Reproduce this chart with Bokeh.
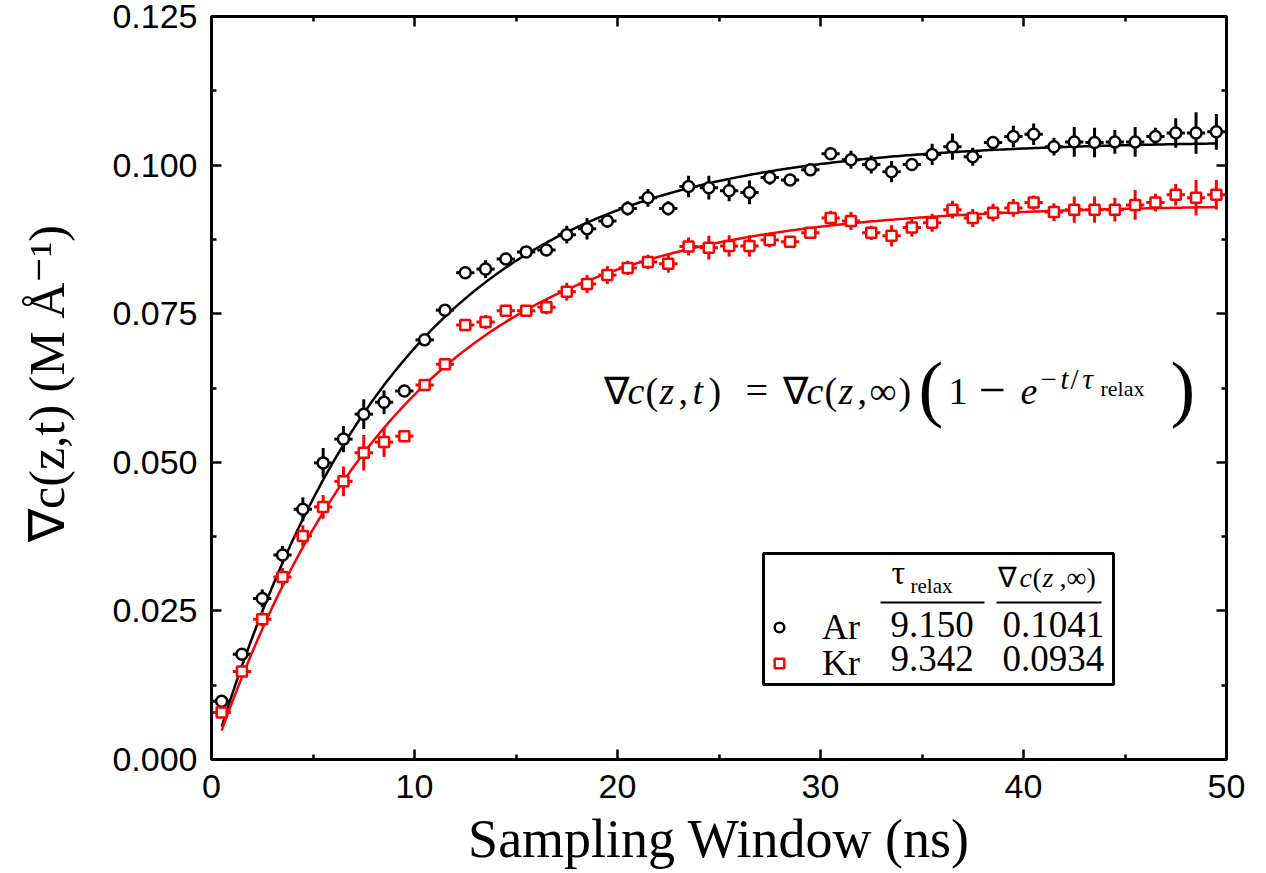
import numpy as np
from bokeh.plotting import figure
from bokeh.models import (Range1d, LinearAxis, Label, BoxAnnotation, Legend,
                          LegendItem, FixedTicker, NumeralTickFormatter)
from bokeh.embed import file_html
from bokeh.resources import INLINE

# ---------------- data ----------------
t = [0.5, 1.5, 2.5, 3.5, 4.5, 5.5, 6.5, 7.5, 8.5, 9.5,
     10.5, 11.5, 12.5, 13.5, 14.5, 15.5, 16.5, 17.5, 18.5, 19.5,
     20.5, 21.5, 22.5, 23.5, 24.5, 25.5, 26.5, 27.5, 28.5, 29.5,
     30.5, 31.5, 32.5, 33.5, 34.5, 35.5, 36.5, 37.5, 38.5, 39.5,
     40.5, 41.5, 42.5, 43.5, 44.5, 45.5, 46.5, 47.5, 48.5, 49.5]

ar = [0.0098, 0.0177, 0.0271, 0.0344, 0.0421, 0.0499, 0.0539, 0.0581, 0.0601, 0.0620,
      0.0706, 0.0756, 0.0819, 0.0825, 0.0842, 0.0854, 0.0857, 0.0883, 0.0893, 0.0906,
      0.0927, 0.0945, 0.0927, 0.0964, 0.0962, 0.0957, 0.0954, 0.0979, 0.0975, 0.0992,
      0.1019, 0.1009, 0.1001, 0.0989, 0.1001, 0.1018, 0.1031, 0.1014, 0.1038, 0.1048,
      0.1052, 0.1031, 0.1039, 0.1038, 0.1039, 0.1039, 0.1048, 0.1054, 0.1054, 0.1056]
ar_err = [0.0005, 0.0008, 0.0015, 0.0015, 0.0020, 0.0025, 0.0022, 0.0025, 0.0020, 0.0010,
          0.0010, 0.0010, 0.0010, 0.0015, 0.0010, 0.0008, 0.0010, 0.0015, 0.0018, 0.0012,
          0.0012, 0.0015, 0.0012, 0.0018, 0.0020, 0.0018, 0.0020, 0.0012, 0.0008, 0.0008,
          0.0008, 0.0015, 0.0015, 0.0018, 0.0008, 0.0018, 0.0022, 0.0015, 0.0008, 0.0018,
          0.0018, 0.0015, 0.0025, 0.0025, 0.0020, 0.0025, 0.0015, 0.0025, 0.0035, 0.0030]

kr = [0.0079, 0.0148, 0.0236, 0.0307, 0.0376, 0.0425, 0.0468, 0.0516, 0.0534, 0.0544,
      0.0630, 0.0665, 0.0731, 0.0736, 0.0755, 0.0755, 0.0761, 0.0787, 0.0800, 0.0815,
      0.0827, 0.0837, 0.0834, 0.0863, 0.0861, 0.0864, 0.0864, 0.0874, 0.0871, 0.0886,
      0.0911, 0.0906, 0.0886, 0.0881, 0.0895, 0.0903, 0.0925, 0.0911, 0.0920, 0.0928,
      0.0937, 0.0921, 0.0925, 0.0925, 0.0925, 0.0933, 0.0937, 0.0950, 0.0945, 0.0950]
kr_err = [0.0008, 0.0010, 0.0012, 0.0015, 0.0018, 0.0020, 0.0025, 0.0030, 0.0025, 0.0005,
          0.0010, 0.0010, 0.0010, 0.0012, 0.0010, 0.0008, 0.0012, 0.0015, 0.0015, 0.0015,
          0.0012, 0.0012, 0.0015, 0.0015, 0.0020, 0.0018, 0.0018, 0.0012, 0.0008, 0.0008,
          0.0012, 0.0015, 0.0012, 0.0018, 0.0015, 0.0015, 0.0015, 0.0015, 0.0015, 0.0015,
          0.0012, 0.0015, 0.0022, 0.0022, 0.0020, 0.0025, 0.0015, 0.0018, 0.0030, 0.0025]

t_halfwidth = 0.45   # horizontal error (half sampling bin)

species = ["Ar", "Kr"]
tau_relax = [9.150, 9.342]
grad_inf = [0.1041, 0.0934]
tau_text = ["9.150", "9.342"]
grad_text = ["0.1041", "0.0934"]

x_ticks = [0, 10, 20, 30, 40, 50]
y_ticks = [0.0, 0.025, 0.05, 0.075, 0.1, 0.125]

# ---------------- style ----------------
SANS = "Liberation Sans"
SERIF = "Liberation Serif"
BLACK = "#000000"
RED = "#ff0000"

FL, FB = 211, 759          # picture px of frame left / bottom (for screen-unit labels)

p = figure(width=1266, height=873,
           x_range=Range1d(0, 50), y_range=Range1d(0, 0.125),
           output_backend="svg", toolbar_location=None,
           min_border_left=211, min_border_right=40,
           min_border_top=16, min_border_bottom=114)
p.xgrid.visible = False
p.ygrid.visible = False
p.outline_line_color = BLACK
p.outline_line_width = 3
p.background_fill_color = "white"
p.border_fill_color = "white"

x_minor = [(a + b) / 2 for a, b in zip(x_ticks[:-1], x_ticks[1:])]
y_minor = [(a + b) / 2 for a, b in zip(y_ticks[:-1], y_ticks[1:])]


def style_axis(ax, ticks, minor, show_labels):
    ax.ticker = FixedTicker(ticks=ticks, minor_ticks=minor)
    ax.axis_line_width = 3
    ax.axis_line_color = BLACK
    ax.major_tick_in = 10
    ax.major_tick_out = 0
    ax.minor_tick_in = 5
    ax.minor_tick_out = 0
    ax.major_tick_line_width = 2.5
    ax.minor_tick_line_width = 2.5
    ax.major_tick_line_color = BLACK
    ax.minor_tick_line_color = BLACK
    if show_labels:
        ax.major_label_text_font = SANS
        ax.major_label_text_font_size = "34px"
        ax.major_label_text_color = BLACK
    else:
        ax.major_label_text_font_size = "0px"
        ax.major_label_text_alpha = 0
        ax.major_label_standoff = 0


style_axis(p.xaxis[0], x_ticks, x_minor, True)
style_axis(p.yaxis[0], y_ticks, y_minor, True)
p.xaxis[0].major_label_standoff = 15
p.yaxis[0].major_label_standoff = 14
p.xaxis[0].formatter = NumeralTickFormatter(format="0")
p.yaxis[0].formatter = NumeralTickFormatter(format="0.000")

p.xaxis[0].axis_label = "Sampling Window (ns)"
p.xaxis[0].axis_label_text_font = SERIF
p.xaxis[0].axis_label_text_font_size = "54px"
p.xaxis[0].axis_label_text_font_style = "normal"
p.xaxis[0].axis_label_text_color = BLACK
p.xaxis[0].axis_label_standoff = 8

p.yaxis[0].axis_label = "∇c(z,t) (M Å⁻¹)"
p.yaxis[0].axis_label_text_font = SERIF
p.yaxis[0].axis_label_text_font_size = "50px"
p.yaxis[0].axis_label_text_font_style = "normal"
p.yaxis[0].axis_label_text_color = BLACK
p.yaxis[0].axis_label_standoff = 34

top_ax = LinearAxis()
style_axis(top_ax, x_ticks, x_minor, False)
p.add_layout(top_ax, "above")
right_ax = LinearAxis()
style_axis(right_ax, y_ticks, y_minor, False)
p.add_layout(right_ax, "right")

# ---------------- data marks ----------------
ta = np.array(t)
series = [(np.array(ar), np.array(ar_err), BLACK, "circle", 11),
          (np.array(kr), np.array(kr_err), RED, "square", 10)]
marker_renderers = []
for (vals, errs, col, mk, sz), tau, ginf in zip(series, tau_relax, grad_inf):
    p.segment(x0=ta, x1=ta, y0=vals - errs, y1=vals + errs,
              line_color=col, line_width=3)
    p.segment(x0=ta - t_halfwidth, x1=ta + t_halfwidth, y0=vals, y1=vals,
              line_color=col, line_width=3)
    tt = np.linspace(t[0], t[-1], 400)
    p.line(tt, ginf * (1 - np.exp(-tt / tau)), line_color=col, line_width=2.5)

for (vals, errs, col, mk, sz) in series:
    r = p.scatter(ta, vals, marker=mk, size=sz, line_color=col, line_width=2.5,
                  fill_color="white")
    marker_renderers.append(r)

# ---------------- text helpers ----------------
def put(txt, px, py, size, style="normal", align="left", font=SERIF, color=BLACK):
    # py is the wanted alphabetic baseline in picture pixels
    p.add_layout(Label(x=px - FL, y=FB - (py - 0.38 * size), x_units="screen", y_units="screen",
                       text=txt, text_font=font, text_font_size=f"{size}px",
                       text_font_style=style, text_align=align,
                       text_baseline="alphabetic", text_color=color))

# equation
EB = 405
SB = 390
eq = [("∇", 603, EB, 38, "normal"), ("c", 627, EB, 38, "italic"),
      ("(", 645, EB, 38, "normal"), ("z", 659, EB, 38, "italic"),
      (",", 678, EB, 38, "normal"), ("t", 692, EB, 38, "italic"),
      (")", 708, EB, 38, "normal"), ("=", 745, EB, 40, "normal"),
      ("∇", 782, EB, 38, "normal"), ("c", 806, EB, 38, "italic"),
      ("(", 824, EB, 38, "normal"), ("z", 838, EB, 38, "italic"),
      (",", 857, EB, 38, "normal"), ("∞", 869, EB, 38, "normal"),
      (")", 898, EB, 38, "normal"), ("(", 918, 416, 74, "normal"),
      ("1", 948, EB, 38, "normal"), ("−", 978, EB + 3, 48, "normal"),
      ("e", 1020, EB, 38, "italic"), ("−", 1040, SB, 29, "normal"),
      ("t", 1060, SB, 29, "italic"), ("/", 1070, SB, 29, "normal"),
      ("τ", 1082, SB, 29, "italic"), ("relax", 1100, SB + 6, 22, "normal"),
      (")", 1170, 416, 74, "normal")]
for txt, px, py, sz, st in eq:
    put(txt, px, py, sz, style=st)

# ---------------- legend table ----------------
p.add_layout(BoxAnnotation(left=763 - FL, right=1113 - FL, bottom=FB - 684, top=FB - 553,
                           left_units="screen", right_units="screen",
                           bottom_units="screen", top_units="screen",
                           fill_alpha=0, line_color=BLACK, line_alpha=1, line_width=3))
for l, r in [(880, 984), (996, 1101)]:
    p.add_layout(BoxAnnotation(left=l - FL, right=r - FL, bottom=FB - 603, top=FB - 601,
                               left_units="screen", right_units="screen",
                               bottom_units="screen", top_units="screen",
                               fill_color=BLACK, fill_alpha=1, line_alpha=0))

put("τ", 891, 585, 34)
put("relax", 910, 593, 21)
put("∇", 997, 588, 28)
put("c", 1019, 588, 28, style="italic")
put("(", 1032, 588, 28)
put("z", 1042, 588, 28, style="italic")
put("\u00a0,∞)", 1052, 588, 28)

ROW_H = 44
for s, r, cy in zip(species, marker_renderers, [627, 663]):
    leg = Legend(items=[LegendItem(label=s, renderers=[r])],
                 location=(767 - FL, FB - cy - ROW_H / 2), orientation="vertical",
                 padding=0, margin=0, spacing=0,
                 glyph_width=24, glyph_height=ROW_H, label_height=ROW_H, label_standoff=31,
                 label_text_font=SERIF, label_text_font_size="36px", label_text_color=BLACK,
                 border_line_alpha=0, background_fill_alpha=0)
    p.add_layout(leg, "center")

for i, (a, b) in enumerate(zip(tau_text, grad_text)):
    base = 638 + 34 * i
    put(a, 890, base, 37)
    put(b, 1002, base, 37)

open("out.html", "w").write(file_html(p, INLINE))
